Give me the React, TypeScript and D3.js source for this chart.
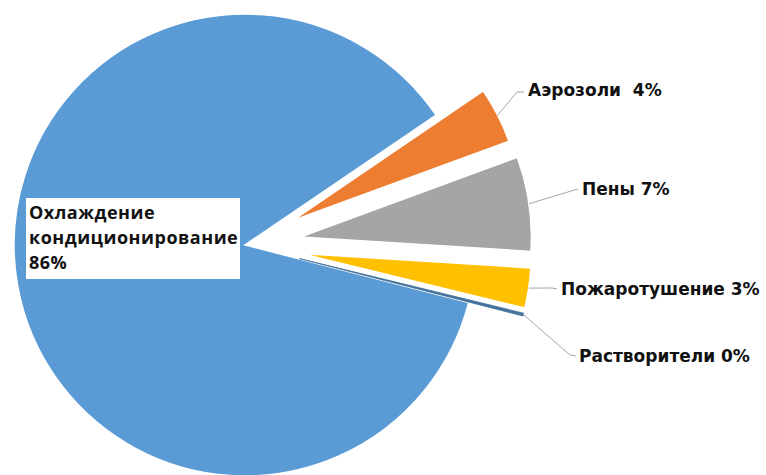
import React from 'react';
import * as d3 from 'd3';

// slice data
const categories = ['Охлаждение кондиционирование', 'Аэрозоли', 'Пены', 'Пожаротушение', 'Растворители'];
const shares = [86.5, 3.9, 6.6, 2.8, 0.2];
const percentLabels = ['86%', '4%', '7%', '3%', '0%'];
const colors = ['#5b9bd5', '#ed7d31', '#a5a5a5', '#ffc000', '#44729c'];

// layout
const width = 766;
const height = 475;
const cx = 245;
const cy = 245;
const radius = 231;
const explode = [0, 53, 56, 56, 56];
const startDeg = 104.4;
const labelGap = ['', '  ', ' ', ' ', ' '];
// label text origin and leader elbow per slice (index 0 uses the boxed label)
const labelPos = [
  { x: 29, y: 219 },
  { x: 528, y: 96 },
  { x: 582, y: 195 },
  { x: 561, y: 295 },
  { x: 579, y: 362 },
];
const elbows = [
  null,
  [[517, 92], [524, 92]],
  [[578, 189]],
  [[552, 288], [557, 289]],
  [[570, 355], [576, 356]],
];

type Slice = d3.PieArcDatum<number>;

const App: React.FC = () => {
  const rad = (d: number) => (d * Math.PI) / 180;
  const pie = d3.pie<number>()
    .sort(null)
    .startAngle(rad(startDeg))
    .endAngle(rad(startDeg) + 2 * Math.PI);
  const arcs = pie(shares);

  const arc = d3.arc<Slice>().innerRadius(0).outerRadius(radius);

  const offsetOf = (a: Slice, i: number) => {
    const mid = (a.startAngle + a.endAngle) / 2;
    return [Math.sin(mid) * explode[i], -Math.cos(mid) * explode[i]];
  };

  const line = d3.line();

  return (
    <svg
      width={width}
      height={height}
      style={{ position: 'absolute', left: 0, top: 0, background: '#fff' }}
    >
      <g transform={`translate(${cx},${cy})`}>
        {arcs.map((a, i) => {
          const [dx, dy] = offsetOf(a, i);
          return (
            <path
              key={categories[i]}
              d={arc(a) || ''}
              transform={`translate(${dx},${dy})`}
              fill={colors[i]}
              stroke={i === 4 ? colors[i] : '#fff'}
              strokeWidth={i === 4 ? 0.8 : 1.5}
            />
          );
        })}
      </g>

      {/* leader lines */}
      {arcs.map((a, i) => {
        const pts = elbows[i];
        if (!pts) return null;
        const [dx, dy] = offsetOf(a, i);
        const mid = (a.startAngle + a.endAngle) / 2;
        const start: [number, number] = [
          cx + dx + Math.sin(mid) * radius,
          cy + dy - Math.cos(mid) * radius,
        ];
        return (
          <path
            key={'l' + i}
            d={line([start, ...(pts as [number, number][])]) || ''}
            fill="none"
            stroke="#a6a6a6"
            strokeWidth={1}
          />
        );
      })}

      {/* outside labels */}
      {arcs.map((a, i) => {
        if (i === 0) return null;
        return (
          <text
            key={'t' + i}
            x={labelPos[i].x}
            y={labelPos[i].y}
            fontFamily="'DejaVu Sans', sans-serif"
            fontWeight="bold"
            fontSize={17}
            fill="#111"
            style={{ whiteSpace: 'pre' }}
          >
            {categories[i] + labelGap[i] + percentLabels[i]}
          </text>
        );
      })}

      {/* boxed label of the large slice */}
      <rect x={26} y={198} width={214} height={81} fill="#fff" />
      <text
        x={labelPos[0].x}
        y={labelPos[0].y}
        fontFamily="'Open Sans', sans-serif"
        fontWeight="bold"
        fontSize={18}
        letterSpacing={0.5}
        fill="#111"
      >
        {categories[0].split(' ').concat(percentLabels[0]).map((t, k) => (
          <tspan key={k} x={labelPos[0].x} dy={k === 0 ? 0 : 25}>
            {t}
          </tspan>
        ))}
      </text>
    </svg>
  );
};

export default App;
